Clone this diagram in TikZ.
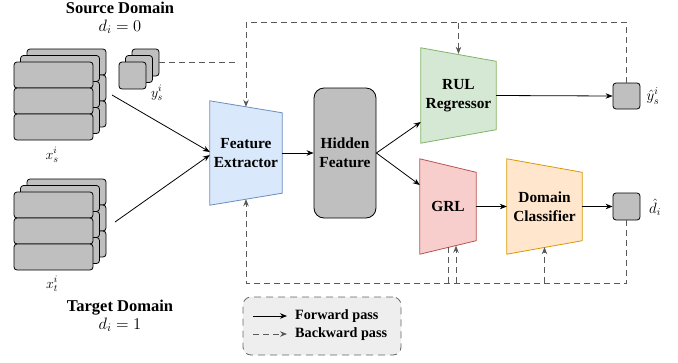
\documentclass[tikz,border=0pt]{standalone}
\usepackage{fix-cm}
\usepackage{fontspec}
\setmainfont{Liberation Serif}
\usepackage{tikz}
\usetikzlibrary{arrows.meta,positioning,calc,backgrounds}

\definecolor{feFill}{HTML}{DAE8FC}
\definecolor{feLine}{HTML}{6C8EBF}
\definecolor{rulFill}{HTML}{D5E8D4}
\definecolor{rulLine}{HTML}{82B366}
\definecolor{grlFill}{HTML}{F8CECC}
\definecolor{grlLine}{HTML}{B85450}
\definecolor{dcFill}{HTML}{FFE6CC}
\definecolor{dcLine}{HTML}{D79B00}
\definecolor{boxGray}{HTML}{BFBFBF}
\definecolor{legFill}{HTML}{EEEEEE}

% trapezoid behind a text node: node, colours, slant
\newcommand{\trapbox}[3]{%
  \draw[line width=0.8pt, #2] (#1.north west) -- ($(#1.north east)+(0,#3)$)
    -- ($(#1.south east)+(0,-#3)$) -- (#1.south west) -- cycle;}

\begin{document}
\begin{tikzpicture}[
    x=1pt, y=-1pt,
    >={Stealth[length=7pt,width=5.5pt]},
    every node/.style = {inner sep=0pt, align=center,
      font=\fontsize{15.4}{19}\selectfont\bfseries},
    card/.style = {draw, fill=boxGray, line width=0.8pt, rounded corners=3pt,
      minimum width=79pt, minimum height=26pt},
    sq/.style = {draw, fill=boxGray, line width=0.8pt, rounded corners=3pt,
      minimum width=27pt, minimum height=27pt},
    trap/.style = {minimum height=95pt},
    mathlbl/.style = {font=\fontsize{14}{16}\selectfont},
    title/.style = {font=\fontsize{16.5}{18}\selectfont\bfseries},
    fwd/.style = {->, line width=0.8pt},
    back/.style = {draw=black!65, line width=0.8pt, dash pattern=on 6pt off 4pt},
    legtext/.style = {font=\fontsize{14.2}{16}\selectfont\bfseries}
  ]
  \useasboundingbox (0,0) rectangle (678,362);

  % source domain
  \foreach \l in {2,1,0}
    \foreach \r in {0,1,2}
      \node[card] (xs\l\r) at (53.5+6.5*\l, 75+26*\r-6.5*\l) {};
  \foreach \l in {2,1,0}
    \node[sq] (ys\l) at (132.5+6.5*\l, 75.5-6.5*\l) {};
  \node[mathlbl] (xslbl) at (52,155) {$x_s^i$};
  \node[mathlbl] (yslbl) at (157,93) {$y_s^i$};
  \node[title] (src) at (120,18) {Source Domain\\\mdseries$d_i=0$};

  % target domain
  \foreach \l in {2,1,0}
    \foreach \r in {0,1,2}
      \node[card] (xt\l\r) at (53.5+6.5*\l, 205+26*\r-6.5*\l) {};
  \node[mathlbl] (xtlbl) at (52,284) {$x_t^i$};
  \node[title] (tgt) at (120,316) {Target Domain\\\mdseries$d_i=1$};

  % network
  \node[minimum width=72pt, minimum height=104pt] (fe) at (246,153) {Feature\\Extractor};
  \node[draw, fill=boxGray, line width=0.8pt, rounded corners=10pt,
    minimum width=62pt, minimum height=130pt] (hf) at (345,153) {Hidden\\Feature};
  \node[trap, minimum width=75pt] (rul) at (458.5,95.5) {RUL\\Regressor};
  \node[trap, minimum width=56pt] (grl) at (448,206.5) {GRL};
  \node[trap, minimum width=75pt] (dc) at (544.5,206.5) {Domain\\Classifier};
  \node[sq, minimum height=26pt] (yhat) at (626.5,96) {};
  \node[sq] (dhat) at (626.5,206.5) {};
  \node[mathlbl, font=\fontsize{15}{17}\selectfont] (yhatlbl) at (653,96) {$\hat{y}_s^i$};
  \node[mathlbl, font=\fontsize{15}{17}\selectfont] (dhatlbl) at (655,207) {$\hat{d}_i$};

  \begin{scope}[on background layer]
    \trapbox{fe}{fill=feFill, draw=feLine}{12}
    \trapbox{rul}{fill=rulFill, draw=rulLine}{13.5}
    \trapbox{grl}{fill=grlFill, draw=grlLine}{13.5}
    \trapbox{dc}{fill=dcFill, draw=dcLine}{13.5}
  \end{scope}

  % forward pass
  \coordinate (xsout) at (112,95);
  \coordinate (xtout) at (115,222);
  \draw[fwd] (xsout) -- ($(fe.west)+(0,-1)$);
  \draw[fwd] (xtout) -- ($(fe.west)+(0,2)$);
  \draw[fwd] (fe.east) -- (hf.west);
  \draw[fwd] (hf.east) -- ($(rul.west)+(0,26.5)$);
  \draw[fwd] (hf.east) -- ($(grl.west)+(0,-21.5)$);
  \draw[fwd] (rul.east) -- (yhat.west);
  \draw[fwd] (grl.east) -- (dc.west);
  \draw[fwd] (dc.east) -- (dhat.west);

  % backward pass
  \coordinate (ysend) at (237,62.5);
  \draw[back] (ys2.east) -- (ysend);
  \coordinate (tline) at ($(yhat.north)+(0,-60)$);
  \draw[back,->] (yhat.north) -- (yhat.north |- tline) -| ($(fe.north)+(0,6)$);
  \draw[back,->] (rul.north |- tline) -- ($(rul.north)+(0,6)$);
  \coordinate (bline) at ($(dhat.south)+(0,63)$);
  \draw[back,->] (dhat.south) -- (bline) -| ($(fe.south)+(0,-6)$);
  \draw[back] ($(grl.south)+(0,-7)$) -- (grl.south |- bline);
  \draw[back,->] ($(grl.south |- bline)+(8,0)$) -- ($(grl.south)+(8,-8.5)$);
  \draw[back,->] (dc.south |- bline) -- ($(dc.south)+(0,-7)$);

  % legend
  \node[draw=black!60, fill=legFill, line width=0.8pt, rounded corners=8pt,
    dash pattern=on 7pt off 5pt, minimum width=158pt, minimum height=58pt] (leg) at (322,326) {};
  \node[legtext, anchor=west] (fwdtxt) at (295,316) {Forward pass};
  \node[legtext, anchor=west] (backtxt) at (295,334) {Backward pass};
  \coordinate (fwdstart) at (253,316);
  \coordinate (backstart) at (253,334);
  \draw[fwd, shorten >=8pt] (fwdstart) -- (fwdtxt.west);
  \draw[back, ->, shorten >=8pt] (backstart) -- (backtxt.west);
\end{tikzpicture}
\end{document}
